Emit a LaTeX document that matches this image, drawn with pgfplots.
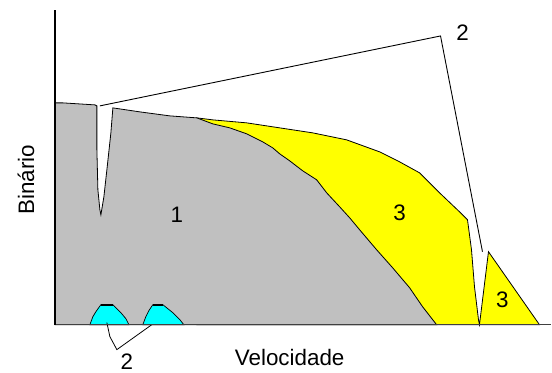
\documentclass[border=0pt]{standalone}
\usepackage{pgfplots}
\pgfplotsset{compat=1.18}
\usepackage{fontspec}
\setmainfont{Liberation Sans}
\definecolor{gy}{RGB}{192,192,192}
\definecolor{yl}{RGB}{255,255,0}
\definecolor{cy}{RGB}{0,255,255}
\begin{document}
\begin{tikzpicture}
\begin{axis}[
  scale only axis, width=497bp, height=315bp,
  xmin=55, xmax=552, ymin=0, ymax=315,
  axis x line=bottom, axis y line=left,
  x axis line style={-, line width=1.2bp, draw=black!75},
  y axis line style={-, line width=1.6bp},
  xtick=\empty, ytick=\empty,
  clip=false, axis on top,
  font=\fontsize{22.5}{26}\selectfont,
  xlabel={Velocidade},
  xlabel style={at={(axis cs:290,-33)}, anchor=center},
  ylabel={Binário},
  ylabel style={at={(axis cs:26,145)}, anchor=center, rotate=0},
]
% region 3 (yellow)
\addplot[fill=yl, draw=black, line width=0.8bp] coordinates {
 (197,207) (213,205) (247,202) (280,197) (313,192) (347,185) (380,173)
 (400,163) (420,152) (440,132) (460,113) (468,105) (472,75) (475,38)
 (479,5) (480,0) (489,73) (540,0) (197,0)} -- cycle;
% region 1 (grey)
\addplot[fill=gy, draw=black, line width=0.8bp] coordinates {
 (55,0) (55,222) (63,222) (95,220) (97,219) (97,175) (98,135) (100,115)
 (101,110) (104,128) (107,155) (111,192) (113,217) (140,213) (170,209)
 (197,207) (213,201) (230,197) (247,191) (263,183) (273,177) (280,171)
 (290,164) (303,154) (317,145) (327,132) (340,118) (350,107) (360,95)
 (377,75) (393,57) (410,37) (423,18) (437,0)} -- cycle;
% region 2 (cyan bumps)
\addplot[fill=cy, draw=black, line width=0.7bp] coordinates {
 (90,0) (93,8) (96,13) (101,20) (113,20) (117,16) (121,12) (126,6) (129,0)} -- cycle;
\addplot[fill=cy, draw=black, line width=0.7bp] coordinates {
 (143,0) (146,8) (149,14) (153,20) (163,20) (168,16) (173,12) (180,5) (184,0)} -- cycle;
\addplot[black, line width=1.8bp] coordinates {(101,20) (113,20)};
\addplot[black, line width=1.8bp] coordinates {(153,20) (163,20)};
% curve 2
\addplot[black, line width=0.9bp] coordinates {(100,219) (441,289) (483,73)};
% callout for 2
\addplot[black, line width=0.8bp] coordinates {(107,2) (110,-12) (117,-25) (152,0)};
\node at (axis cs:177,110) {1};
\node at (axis cs:400,112) {3};
\node at (axis cs:503,25) {3};
\node at (axis cs:463,292) {2};
\node at (axis cs:127,-37) {2};
\path (axis cs:0,-45) rectangle (axis cs:552,325);
\end{axis}
\end{tikzpicture}
\end{document}
